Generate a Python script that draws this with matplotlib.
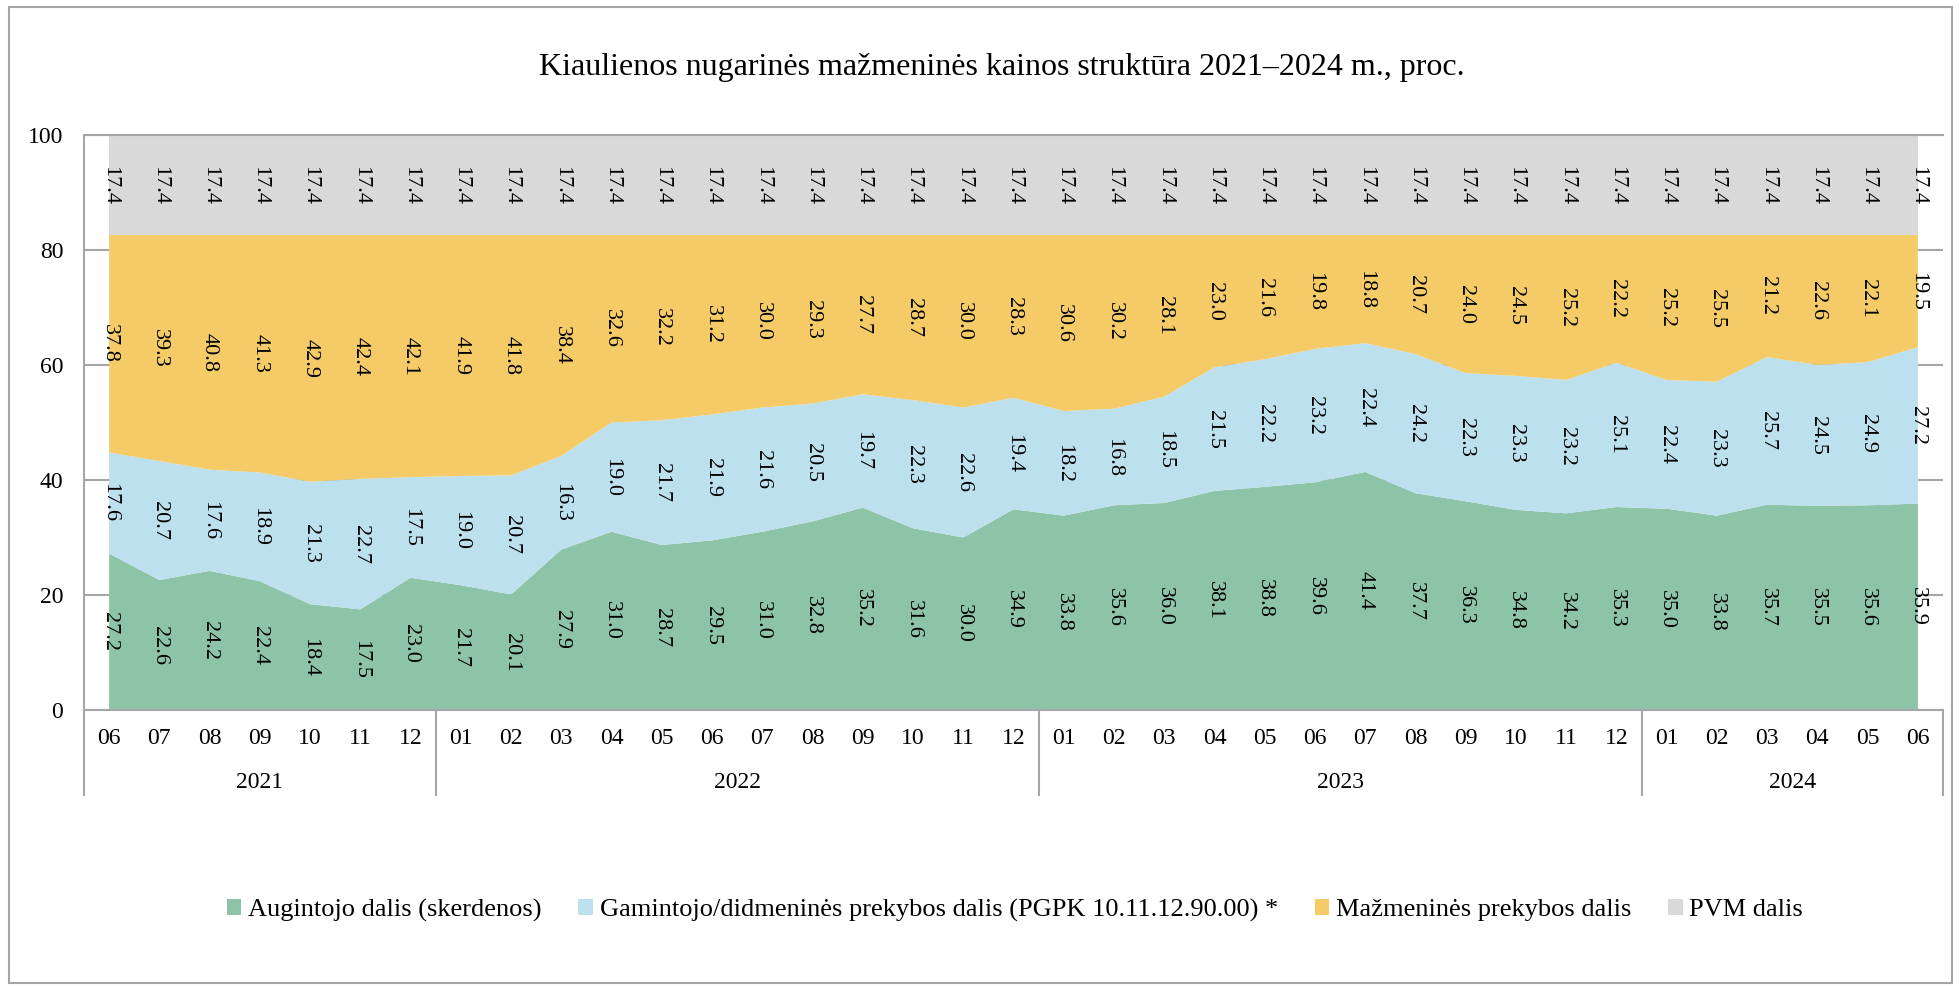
import numpy as np
import matplotlib
matplotlib.use("Agg")
import matplotlib.pyplot as plt
from matplotlib.patches import Rectangle, Patch
import matplotlib.transforms as mtransforms

plt.rcParams['font.family'] = ['Liberation Serif', 'DejaVu Serif']

title = "Kiaulienos nugarinės mažmeninės kainos struktūra 2021–2024 m., proc."

months = ["06", "07", "08", "09", "10", "11", "12",
          "01", "02", "03", "04", "05", "06", "07", "08", "09", "10", "11", "12",
          "01", "02", "03", "04", "05", "06", "07", "08", "09", "10", "11", "12",
          "01", "02", "03", "04", "05", "06"]
years = ["2021", "2022", "2023", "2024"]
year_counts = [7, 12, 12, 6]

series_names = ["Augintojo dalis (skerdenos)",
                "Gamintojo/didmeninės prekybos dalis (PGPK 10.11.12.90.00) *",
                "Mažmeninės prekybos dalis",
                "PVM dalis"]

augintojo = [27.2, 22.6, 24.2, 22.4, 18.4, 17.5, 23.0, 21.7, 20.1, 27.9, 31.0, 28.7,
             29.5, 31.0, 32.8, 35.2, 31.6, 30.0, 34.9, 33.8, 35.6, 36.0, 38.1, 38.8,
             39.6, 41.4, 37.7, 36.3, 34.8, 34.2, 35.3, 35.0, 33.8, 35.7, 35.5, 35.6, 35.9]
gamintojo = [17.6, 20.7, 17.6, 18.9, 21.3, 22.7, 17.5, 19.0, 20.7, 16.3, 19.0, 21.7,
             21.9, 21.6, 20.5, 19.7, 22.3, 22.6, 19.4, 18.2, 16.8, 18.5, 21.5, 22.2,
             23.2, 22.4, 24.2, 22.3, 23.3, 23.2, 25.1, 22.4, 23.3, 25.7, 24.5, 24.9, 27.2]
mazmenines = [37.8, 39.3, 40.8, 41.3, 42.9, 42.4, 42.1, 41.9, 41.8, 38.4, 32.6, 32.2,
              31.2, 30.0, 29.3, 27.7, 28.7, 30.0, 28.3, 30.6, 30.2, 28.1, 23.0, 21.6,
              19.8, 18.8, 20.7, 24.0, 24.5, 25.2, 22.2, 25.2, 25.5, 21.2, 22.6, 22.1, 19.5]
pvm = [17.4] * 37

colors = ["#8DC3A7", "#BDE0EF", "#F4CB66", "#D9D9D9"]
grid_color = "#A6A6A6"
FS = 17
FS_DATA = 16

W, H = 1959, 989
fig = plt.figure(figsize=(W / 100, H / 100), dpi=100)

L, R, T, B = 84, 1943, 135, 710
ax = fig.add_axes([L / W, 1 - B / H, (R - L) / W, (B - T) / H])

x = np.arange(len(months))
data = [augintojo, gamintojo, mazmenines, pvm]
ax.stackplot(x, *data, colors=colors, labels=series_names, linewidth=0, zorder=2)

ax.set_xlim(-0.5, len(months) - 0.5)
ax.set_ylim(0, 100)
ax.set_yticks([0, 20, 40, 60, 80, 100])
ax.set_yticklabels(["0", "20", "40", "60", "80", "100"], fontsize=FS)
ax.tick_params(axis='y', length=0, pad=15)
ax.set_xticks([])
ax.grid(axis='y', color=grid_color, linewidth=1.5, zorder=0)
ax.set_axisbelow(True)
ax.spines["right"].set_visible(False)
for s in ["left", "bottom", "top"]:
    ax.spines[s].set_color(grid_color)
    ax.spines[s].set_linewidth(1.5)

# data labels
bottom = np.zeros(len(months))
for vals in data:
    v = np.array(vals)
    for i in range(len(months)):
        ax.text(x[i], bottom[i] + v[i] / 2, f"{v[i]:.1f}", rotation=270,
                ha='center', va='center', fontsize=FS_DATA, zorder=5,
                rotation_mode='anchor')
    bottom += v

# multi-level category axis
trans = mtransforms.blended_transform_factory(ax.transData, ax.transAxes)
y_month = -(739 - B) / (B - T)
y_year = -(783 - B) / (B - T)
y_sep = -(795 - B) / (B - T)
for i, m in enumerate(months):
    ax.text(x[i], y_month, m, transform=trans, ha='center', va='center', fontsize=FS)
start = 0
seps = [-0.5]
for yr, n in zip(years, year_counts):
    center = (start + start + n - 1) / 2
    ax.text(center, y_year, yr, transform=trans, ha='center', va='center', fontsize=FS)
    start += n
    seps.append(start - 0.5)
for s in seps:
    ax.plot([s, s], [0, y_sep], transform=trans, color=grid_color, lw=1.5, clip_on=False)

# title
fig.text(1002 / W, 1 - 68 / H, title, ha='center', va='center', fontsize=23)

# legend
handles = [Patch(facecolor=c, edgecolor='none') for c in colors]
fig.legend(handles, series_names, loc='center', bbox_to_anchor=(1015 / W, 1 - 910 / H),
           ncol=4, frameon=False, fontsize=19, handlelength=0.55, handleheight=0.55,
           handletextpad=0.25, columnspacing=1.4)

# outer border
fig.patches.append(Rectangle((9 / W, 1 - 983 / H), (1952 - 9) / W, (983 - 7) / H,
                             transform=fig.transFigure, fill=False,
                             edgecolor=grid_color, linewidth=1.5))

fig.savefig("out.png", dpi=100)
